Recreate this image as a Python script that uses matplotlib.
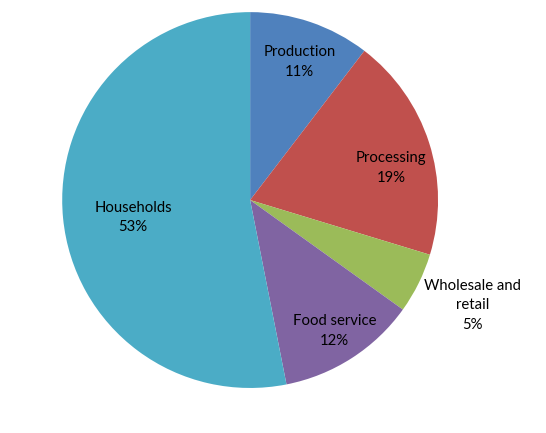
import numpy as np
import matplotlib.pyplot as plt

# data
categories = ['Production', 'Processing', 'Wholesale and\nretail', 'Food service', 'Households']
shares = [10.4, 19.3, 5.2, 12.0, 53.1]
# percentages as printed on the labels
pct_labels = ['11%', '19%', '5%', '12%', '53%']
colors = ['#4F81BD', '#C0504D', '#9BBB59', '#8064A2', '#4BACC6']

# label distance from centre (fraction of radius) and angle nudge in degrees
label_r = [0.78, 0.77, 1.31, 0.83, 0.63]
label_nudge = [-1, -5, 1, 0, 3]

plt.rcParams['font.family'] = ['Lato', 'DejaVu Sans']

fig = plt.figure(figsize=(5.46, 4.33), dpi=100)
ax = fig.add_axes([0.1136, 0.104, 0.689, 0.868])

wedges, _ = ax.pie(shares, colors=colors, startangle=90, counterclock=False,
                   radius=1.0, wedgeprops=dict(linewidth=0))

for w, name, pct, r, nudge in zip(wedges, categories, pct_labels, label_r, label_nudge):
  mid = np.deg2rad((w.theta1 + w.theta2) / 2 + nudge)
  ax.text(r * np.cos(mid), r * np.sin(mid), f'{name}\n{pct}',
          ha='center', va='center', fontsize=10.7, color='black', linespacing=1.5)

ax.set_xlim(-1, 1)
ax.set_ylim(-1, 1)
ax.set_aspect('equal')
ax.axis('off')

fig.savefig('out.png', dpi=100)
